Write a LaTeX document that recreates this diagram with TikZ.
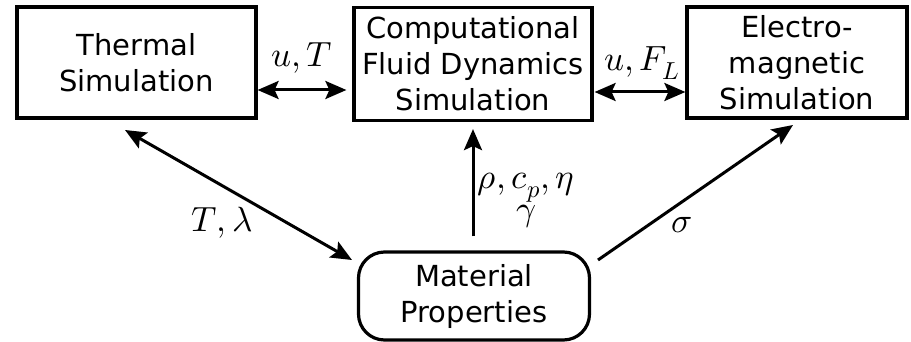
\documentclass[tikz,border=0pt]{standalone}
\usepackage{fontspec}
\setmainfont{DejaVu Sans}
\usepackage{unicode-math}
\setmathfont{Latin Modern Math}
\usetikzlibrary{arrows.meta}
\begin{document}
\begin{tikzpicture}[x=1pt,y=-1pt,
  box/.style={draw,line width=3.2pt,inner sep=0pt,align=center,
    font=\fontsize{29}{36}\selectfont},
  conn/.style={line width=3pt,-{Stealth[length=21pt,width=18pt,inset=4pt]}},
  dconn/.style={line width=3pt,{Stealth[length=21pt,width=18pt,inset=4pt]}-{Stealth[length=21pt,width=18pt,inset=4pt]}},
  lbl/.style={inner sep=0pt,anchor=base,font=\fontsize{35}{27}\selectfont}]
\useasboundingbox (0,0) rectangle (911,342);
\node[box,minimum width=239pt,minimum height=111pt] (therm) at (136.5,62.5) {Thermal\\Simulation};
\node[box,minimum width=238pt,minimum height=113pt] (cfd) at (473,64) {Computational\\Fluid Dynamics\\Simulation};
\node[box,minimum width=220pt,minimum height=111pt] (em) at (797,62.5) {Electro-\\magnetic\\Simulation};
\node[box,rounded corners=26pt,minimum width=231pt,minimum height=88pt] (mat) at (474,296) {Material\\Properties};
\coordinate (y1) at (0,90);
\coordinate (y2) at (0,92);
\coordinate (tA) at (125,130);
\coordinate (tB) at (352,260);
\coordinate (eA) at (598,260);
\coordinate (eB) at (793,125);
\draw[dconn] (therm.east |- y1) -- ([xshift=-6pt]cfd.west |- y1);
\draw[dconn] ([xshift=1pt]cfd.east |- y2) -- (em.west |- y2);
\draw[dconn] (tA) -- (tB);
\draw[conn] ([yshift=14pt]mat.north -| 473,0) -- ([yshift=-7pt]cfd.south -| 473,0);
\draw[conn] (eA) -- (eB);
\node[lbl] (l1) at (302,67) {$u,T$};
\node[lbl] (l2) at (642,71) {$u,F_L$};
\node[lbl] (l3) at (222,232) {$T,\lambda$};
\node[lbl,align=center,anchor=north] (l4) at (526,173) {$\rho,c_p,\eta$\\[2pt]$\gamma$};
\node[lbl] (l5) at (682,233) {$\sigma$};
\end{tikzpicture}
\end{document}
